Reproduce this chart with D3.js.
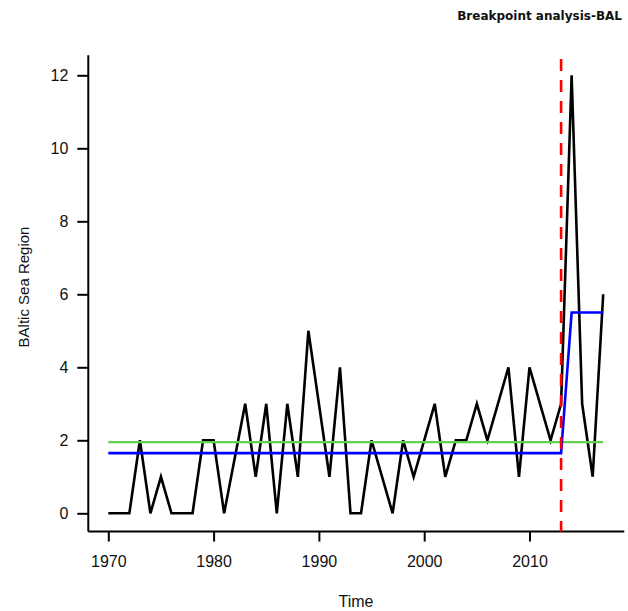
<!DOCTYPE html>
<html>
<head>
<meta charset="utf-8">
<script src="https://cdn.jsdelivr.net/npm/d3@7"></script>
<style>
  body { margin: 0; background: #fff; }
  text { font-family: "Liberation Sans", Arial, sans-serif; fill: #111; }
</style>
</head>
<body>
<div id="chart"></div>
<script>
var width = 628,
    height = 611;

// data
var years = d3.range(1970, 2018);
var counts = [0, 0, 0, 2, 0, 1, 0, 0, 0, 2,
              2, 0, 1.5, 3, 1, 3, 0, 3, 1, 5,
              3, 1, 4, 0, 0, 2, 1, 0, 2, 1,
              2, 3, 1, 2, 2, 3, 2, 3, 4, 1,
              4, 3, 2, 3, 12, 3, 1, 6];
var breakYear = 2013;
var segMeans = [1.65, 5.5];     // before / after the break
var overallMean = 1.95;
var xTicks = [1970, 1980, 1990, 2000, 2010];
var yTicks = [0, 2, 4, 6, 8, 10, 12];

var x = d3.scaleLinear().domain([1970, 2010]).range([108.3, 529.5]);
var y = d3.scaleLinear().domain([0, 12]).range([513.3, 75.3]);

var svg = d3.select("#chart").append("svg")
    .attr("width", width)
    .attr("height", height);

// title
svg.append("text")
    .attr("x", 622).attr("y", 20)
    .attr("text-anchor", "end")
    .style("font-family", "'DejaVu Sans', sans-serif")
    .style("font-weight", "bold")
    .style("font-size", "12px")
    .text("Breakpoint analysis-BAL");

// axes lines
svg.append("line")
    .attr("x1", x(1968.1)).attr("x2", x(2019.0))
    .attr("y1", y(-0.5)).attr("y2", y(-0.5))
    .attr("stroke", "#000").attr("stroke-width", 2);
svg.append("line")
    .attr("x1", x(1968.1)).attr("x2", x(1968.1))
    .attr("y1", y(-0.5)).attr("y2", y(12.55))
    .attr("stroke", "#000").attr("stroke-width", 2);

var xAx = svg.append("g")
    .attr("transform", "translate(0," + y(-0.5) + ")")
    .call(d3.axisBottom(x).tickValues(xTicks).tickFormat(d3.format("d")).tickSize(10).tickPadding(14));
var yAx = svg.append("g")
    .attr("transform", "translate(" + x(1968.1) + ",0)")
    .call(d3.axisLeft(y).tickValues(yTicks).tickSize(11).tickPadding(9));

[xAx, yAx].forEach(function(g){
  g.select(".domain").remove();
  g.selectAll(".tick line").attr("stroke", "#000").attr("stroke-width", 2);
  g.selectAll(".tick text").style("font-size", "16px").attr("fill", "#111");
});

// axis titles
svg.append("text")
    .attr("x", 356).attr("y", 607)
    .attr("text-anchor", "middle")
    .style("font-size", "16px")
    .text("Time");
svg.append("text")
    .attr("transform", "translate(29,287) rotate(-90)")
    .attr("text-anchor", "middle")
    .style("font-size", "15px")
    .text("BAltic Sea Region");

// series
var line = d3.line()
    .x(function(d) { return x(d[0]); })
    .y(function(d) { return y(d[1]); });

svg.append("path")
    .datum(years.map(function(yr, i){ return [yr, counts[i]]; }))
    .attr("d", line)
    .attr("fill", "none")
    .attr("stroke", "#000")
    .attr("stroke-width", 2.6)
    .attr("stroke-linejoin", "miter");

svg.append("path")
    .datum([[years[0], overallMean], [years[years.length - 1], overallMean]])
    .attr("d", line)
    .attr("fill", "none")
    .attr("stroke", "#61D04F")
    .attr("stroke-width", 2.2);

svg.append("path")
    .datum(years.map(function(yr){ return [yr, yr <= breakYear ? segMeans[0] : segMeans[1]]; }))
    .attr("d", line)
    .attr("fill", "none")
    .attr("stroke", "#0000FF")
    .attr("stroke-width", 2.6);

svg.append("line")
    .attr("x1", x(breakYear)).attr("x2", x(breakYear))
    .attr("y1", y(12.45)).attr("y2", y(-0.5))
    .attr("stroke", "#FF0000")
    .attr("stroke-width", 2.6)
    .attr("stroke-dasharray", "12,9");
</script>
</body>
</html>
